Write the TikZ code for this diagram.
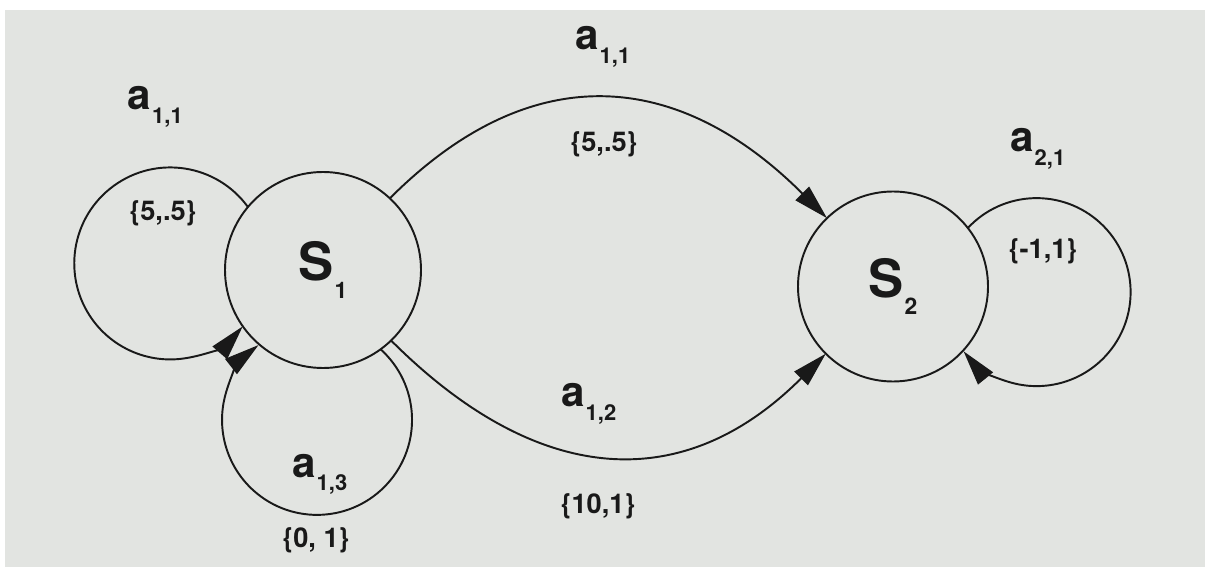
\documentclass[tikz,border=0pt]{standalone}
\usepackage{fontspec}
\setmainfont{TeX Gyre Heros}
\usetikzlibrary{arrows.meta}
\definecolor{pagegray}{RGB}{226,228,225}
\definecolor{ink}{RGB}{25,25,25}
\newcommand{\albl}[1]{{\fontsize{24}{24}\selectfont a}\kern0.5pt\raisebox{-7.5pt}{\fontsize{12.5}{12.5}\selectfont #1}}
\newcommand{\slbl}[1]{{\fontsize{30}{30}\selectfont S}\kern0.5pt\raisebox{-10pt}{\fontsize{13}{13}\selectfont #1}}
\newcommand{\cost}[1]{{\fontsize{15.5}{15.5}\selectfont\{#1\}}}
\tikzset{
  statenode/.style={circle, draw=ink, line width=1.1pt, inner sep=0pt, outer sep=0pt, text=ink, font=\bfseries},
  trans/.style={draw=ink, line width=1.1pt, -{Triangle[length=0.7cm,width=0.38cm]}},
  lbl/.style={text=ink, font=\bfseries, inner sep=0pt}
}
\begin{document}
\begin{tikzpicture}[scale=1]
      \useasboundingbox (0,0) rectangle (24.1,11.34);
      \fill[white] (0,0) rectangle (24.1,11.34);
      \fill[pagegray] (0.1,0) rectangle (24.1,11.14);
      \node[statenode, minimum size=3.92cm] (s1) at (6.46,5.94) {\slbl{1}};
      \node[statenode, minimum size=3.8cm] (s2) at (17.86,5.61) {\slbl{2}};
      \draw[trans] (s1.140) arc[start angle=36, end angle=319, radius=1.92];
      \draw[trans] (s1.-54) arc[start angle=48, end angle=-232, radius=1.9];
      \draw[trans] (s2.38) arc[start angle=137, end angle=-141, radius=1.88];
      \draw[trans] (s1.47) to[out=45, in=135, looseness=1.2] (s2.134);
      \draw[trans] (s1.-46) to[out=-45, in=-135, looseness=1.2] (s2.-135);
      \node[lbl, anchor=base west] (a11l) at (2.55,9.14) {\albl{1,1}};
      \node[lbl, anchor=base west] (a11t) at (11.5,10.34) {\albl{1,1}};
      \node[lbl, anchor=base west] (a21) at (20.2,8.3) {\albl{2,1}};
      \node[lbl, anchor=base west] (a12) at (11.22,3.2) {\albl{1,2}};
      \node[lbl, anchor=base west] (a13) at (5.84,1.8) {\albl{1,3}};
      \node[lbl] (c11l) at (3.26,7.08) {\cost{5,.5}};
      \node[lbl] (c11t) at (12.08,8.46) {\cost{5,.5}};
      \node[lbl] (c21) at (20.86,6.32) {\cost{-1,1}};
      \node[lbl] (c12) at (11.96,1.22) {\cost{10,1}};
      \node[lbl] (c13) at (6.32,0.54) {\cost{0, 1}};
    \end{tikzpicture}
\end{document}
